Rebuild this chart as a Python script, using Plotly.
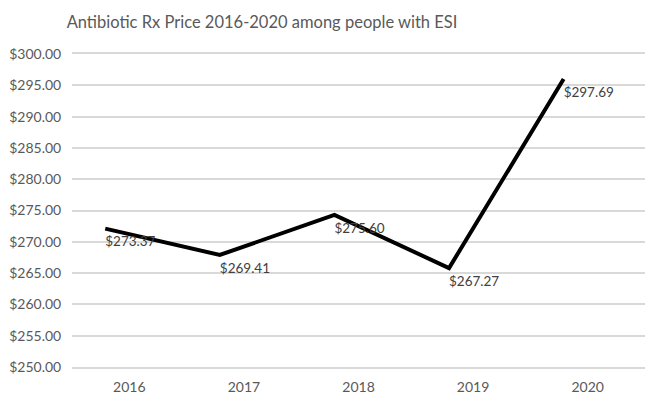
import plotly.graph_objects as go

years = ["2016", "2017", "2018", "2019", "2020"]
# values printed as data labels
label_values = [273.37, 269.41, 275.60, 267.27, 297.69]
# positions where the line is actually drawn in the picture
line_values = [272.1, 267.9, 274.3, 265.8, 296.0]
y_ticks = [250, 255, 260, 265, 270, 275, 280, 285, 290, 295, 300]

FONT = "Lato"
GRAY = "#595959"
GRID = "#d9d9d9"

fig = go.Figure()
# invisible trace that carries the category axis
fig.add_trace(go.Scatter(
    x=years, y=label_values, mode="none",
    xaxis="x", yaxis="y", showlegend=False, hoverinfo="skip",
))
# the drawn line (sits left of the category centres in the picture)
fig.add_trace(go.Scatter(
    x=years, y=line_values, mode="lines",
    line=dict(color="black", width=4),
    xaxis="x2", yaxis="y", showlegend=False, hoverinfo="skip",
))
# data labels
fig.add_trace(go.Scatter(
    x=years, y=line_values, mode="markers+text",
    marker=dict(size=10.5, opacity=0),
    text=["$" + f"{v:.2f}" for v in label_values],
    textposition="bottom right",
    textfont=dict(family=FONT, size=13.5, color="#404040"),
    cliponaxis=False,
    xaxis="x3", yaxis="y", showlegend=False, hoverinfo="skip",
))

hidden = dict(type="category", categoryorder="array", categoryarray=years,
              overlaying="x", anchor="y", automargin=False,
              showticklabels=False, showgrid=False,
              zeroline=False, showline=False, ticks="")

fig.update_layout(
    width=652, height=396,
    margin=dict(l=72, r=7, t=54, b=29, autoexpand=False),
    paper_bgcolor="white", plot_bgcolor="white",
    title=dict(text="Antibiotic Rx Price 2016-2020 among people with ESI",
               x=262 / 652, xanchor="center", y=1 - 22 / 396, yanchor="middle",
               font=dict(family=FONT, size=16.5, color=GRAY)),
    xaxis=dict(type="category", categoryorder="array", categoryarray=years,
               range=[-0.5, 4.5], automargin=False,
               showgrid=False, zeroline=False,
               showline=True, linecolor=GRID, linewidth=1.5, mirror=True,
               ticks="outside", ticklen=6, tickcolor="rgba(0,0,0,0)",
               tickfont=dict(family=FONT, size=14, color=GRAY)),
    xaxis2=dict(hidden, range=[-0.29, 4.71]),
    xaxis3=dict(hidden, range=[-0.224, 4.776]),
    yaxis=dict(range=[250, 300], tickmode="array", tickvals=y_ticks,
               ticktext=["$" + f"{v:.2f}" for v in y_ticks], automargin=False,
               showgrid=True, gridcolor=GRID, gridwidth=1.5,
               zeroline=False, showline=False,
               ticks="outside", ticklen=7, tickcolor="rgba(0,0,0,0)",
               tickfont=dict(family=FONT, size=14, color=GRAY)),
)

fig.write_html("out.html")
